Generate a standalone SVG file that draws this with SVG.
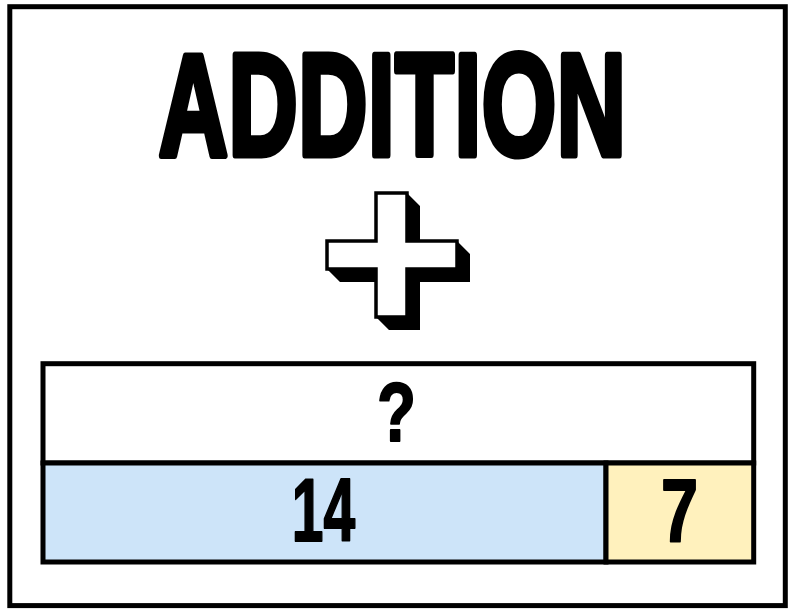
<svg xmlns="http://www.w3.org/2000/svg" width="794" height="614" viewBox="0 0 794 614">
<style>
.frame{fill:none;stroke:#000;stroke-width:5}
.cell{stroke:#000;stroke-width:5}
.lbl{font-family:"Liberation Sans",Arial,sans-serif;font-weight:bold;fill:#000;stroke:#000;stroke-linejoin:round;text-anchor:middle}
</style>
<rect x="0" y="0" width="794" height="614" fill="#fff"/>
<rect class="frame" x="9.8" y="6.7" width="775.5" height="598.9"/>
<g id="title">
<text class="lbl" transform="scale(0.66,1)" x="595" y="155" font-size="145" stroke-width="7" letter-spacing="1">ADDITION</text>
</g>
<g id="plus">
<polygon fill="#000" points="407,193 420,206 420,241 457,241 470,254 470,282 420,282 420,330 389,330 376,317 376,282 340,282 327,269 327,241 376,241 376,193"/>
<polygon fill="#fff" stroke="#000" stroke-width="3.5" stroke-linejoin="miter" points="376,193 407,193 407,241 457,241 457,269 407,269 407,317 376,317 376,269 327,269 327,241 376,241"/>
</g>
<g id="whole">
<rect class="cell" x="43" y="363.7" width="710.7" height="99.3" fill="#fff"/>
<text class="lbl" transform="scale(0.76,1)" x="521.7" y="441" font-size="84" stroke-width="2">?</text>
</g>
<g id="part1">
<rect class="cell" x="43" y="463" width="563" height="99" fill="#cde4f9"/>
<text class="lbl" transform="scale(0.64,1)" x="505.5" y="541" font-size="89" stroke-width="2">14</text>
</g>
<g id="part2">
<rect class="cell" x="606" y="463" width="147.7" height="99" fill="#fff1bd"/>
<text class="lbl" transform="scale(0.75,1)" x="906" y="541" font-size="89" stroke-width="2">7</text>
</g>
<g id="connectors"></g>
</svg>
